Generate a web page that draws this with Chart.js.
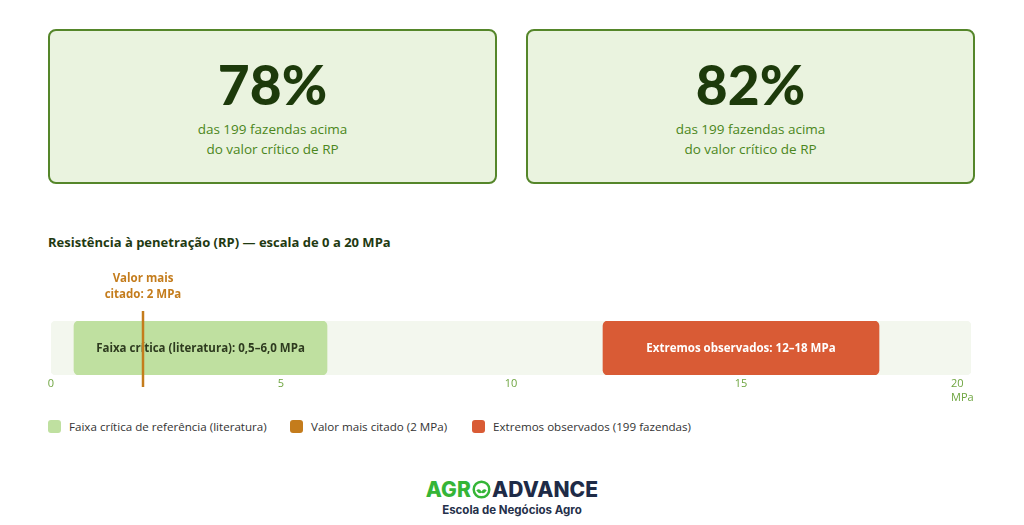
<!DOCTYPE html>
<html>
<head>
<meta charset="utf-8">
<script src="https://cdn.jsdelivr.net/npm/chart.js@4.4.1/dist/chart.umd.min.js"></script>
<style>
  body { margin: 0; width: 1024px; height: 525px; background: #fff; font-family: "Open Sans", "Noto Sans", sans-serif; position: relative; overflow: hidden; }
  .card { position: absolute; top: 29px; width: 449px; height: 155px; background: #eaf3df; border: 2px solid #55862a; border-radius: 8px; box-sizing: border-box; text-align: center; }
  .card .big { font-family: Lato, sans-serif; font-weight: 900; font-size: 55px; color: #1d3a0b; margin-top: 22px; line-height: 62px; }
  .card .sub { font-size: 13.5px; font-weight: 500; color: #4a8620; line-height: 20px; margin-top: 4px; }
  #title { position: absolute; left: 48px; top: 233px; font-size: 13px; font-weight: 700; color: #1f3a12; }
  #wrap { position: absolute; left: 0; top: 260px; width: 1024px; height: 150px; }
  .legend { position: absolute; top: 419px; left: 48px; font-size: 11.6px; color: #333; }
  .legend span.item { position: absolute; white-space: nowrap; top: 0; }
  .legend i { display: inline-block; width: 13px; height: 13px; border-radius: 3px; vertical-align: -2px; margin-right: 8px; }
  #logo { position: absolute; left: 0; width: 1024px; top: 478px; text-align: center; }
  #logo .name { font-family: Inter, sans-serif; font-weight: 800; font-size: 21px; letter-spacing: 0.1px; line-height: 24px; }
  #logo .tag { font-family: Inter, sans-serif; font-weight: 700; font-size: 11.5px; color: #25304a; line-height: 16px; }
</style>
</head>
<body>

<div class="card" style="left:48px">
  <div class="big">78%</div>
  <div class="sub">das 199 fazendas acima<br>do valor crítico de RP</div>
</div>
<div class="card" style="left:526px">
  <div class="big">82%</div>
  <div class="sub">das 199 fazendas acima<br>do valor crítico de RP</div>
</div>

<div id="title">Resistência à penetração (RP) — escala de 0 a 20 MPa</div>

<div id="wrap"><canvas id="rpChart"></canvas></div>

<div class="legend">
  <span class="item" style="left:0"><i style="background:#bfe0a0"></i>Faixa crítica de referência (literatura)</span>
  <span class="item" style="left:242px"><i style="background:#c47c1c"></i>Valor mais citado (2 MPa)</span>
  <span class="item" style="left:424px"><i style="background:#d95b35"></i>Extremos observados (199 fazendas)</span>
</div>

<div id="logo">
  <div class="name"><span style="color:#35b537">AGR</span><svg width="19" height="19" viewBox="0 0 20 20" style="vertical-align:-2px;margin:0 1px"><circle cx="10" cy="10" r="8.2" fill="none" stroke="#35b537" stroke-width="2.6"/><path d="M4.5 11 Q7.5 8 10 12 Q12.5 8 15.5 11 Q12.5 15 10 13.5 Q7.5 15 4.5 11Z" fill="#35b537"/></svg><span style="color:#1e2b47">ADVANCE</span></div>
  <div class="tag">Escola de Negócios Agro</div>
</div>

<script>
var scaleMin = 0;
var scaleMax = 20;
var tickValues = [0, 5, 10, 15, 20];
var tickLabels = ["0", "5", "10", "15", "20"];
var unitLabel = "MPa";

var trackRange = [0, 20];
var criticalRange = [0.5, 6.0];
var extremesRange = [12, 18];
var citedValue = 2;

var criticalLabel = "Faixa crítica (literatura): 0,5–6,0 MPa";
var extremesLabel = "Extremos observados: 12–18 MPa";
var citedLabel = ["Valor mais", "citado: 2 MPa"];

var fontFamily = '"Open Sans", "Noto Sans", sans-serif';

// draws bar labels, the cited-value line and the custom x ticks
var overlayPlugin = {
    id: 'overlay',
    afterDatasetsDraw: function(chart) {
        var ctx = chart.ctx;
        var x = chart.scales.x;
        var area = chart.chartArea;
        var midY = (area.top + area.bottom) / 2;

        ctx.save();
        ctx.font = 'bold 11.5px ' + fontFamily;
        ctx.textAlign = 'center';
        ctx.textBaseline = 'middle';
        ctx.fillStyle = '#2e3b1f';
        ctx.fillText(criticalLabel, (x.getPixelForValue(criticalRange[0]) + x.getPixelForValue(criticalRange[1])) / 2, midY + 1);
        ctx.fillStyle = '#ffffff';
        ctx.fillText(extremesLabel, (x.getPixelForValue(extremesRange[0]) + x.getPixelForValue(extremesRange[1])) / 2, midY + 1);

        // cited value line
        var cx = x.getPixelForValue(citedValue);
        ctx.strokeStyle = '#c47c1c';
        ctx.lineWidth = 2.5;
        ctx.beginPath();
        ctx.moveTo(cx, area.top - 10);
        ctx.lineTo(cx, area.bottom + 12);
        ctx.stroke();

        ctx.fillStyle = '#c47c1c';
        ctx.font = 'bold 11.5px ' + fontFamily;
        ctx.fillText(citedLabel[0], cx, area.top - 42);
        ctx.fillText(citedLabel[1], cx, area.top - 26);

        // ticks
        ctx.fillStyle = '#6da43e';
        ctx.font = '11px ' + fontFamily;
        for (var i = 0; i < tickValues.length; i++) {
            var px = x.getPixelForValue(tickValues[i]);
            if (i == tickValues.length - 1) {
                ctx.textAlign = 'left';
                ctx.fillText(tickLabels[i], px - 20, area.bottom + 9);
                ctx.fillText(unitLabel, px - 20, area.bottom + 23);
            } else {
                ctx.textAlign = 'center';
                ctx.fillText(tickLabels[i], px, area.bottom + 9);
            }
        }
        ctx.restore();
    }
};

var chartdata = {
    labels: ["RP"],
    datasets: [
        {
            label: "Escala",
            data: [trackRange],
            backgroundColor: "#f3f7ee",
            borderRadius: 5,
            borderSkipped: false,
            grouped: false,
            order: 3
        },
        {
            label: "Faixa crítica de referência (literatura)",
            data: [criticalRange],
            backgroundColor: "#bfe0a0",
            borderRadius: 5,
            borderSkipped: false,
            grouped: false,
            order: 2
        },
        {
            label: "Extremos observados (199 fazendas)",
            data: [extremesRange],
            backgroundColor: "#d95b35",
            borderRadius: 5,
            borderSkipped: false,
            grouped: false,
            order: 1
        }
    ]
};

var ctx = document.getElementById("rpChart");

var rpChart = new Chart(ctx, {
    type: 'bar',
    data: chartdata,
    options: {
        indexAxis: 'y',
        responsive: true,
        maintainAspectRatio: false,
        animation: false,
        barPercentage: 1,
        categoryPercentage: 1,
        layout: { padding: { left: 51, right: 53, top: 61, bottom: 35 } },
        scales: {
            x: { display: false, min: scaleMin, max: scaleMax },
            y: { display: false }
        },
        plugins: {
            legend: { display: false },
            tooltip: { enabled: false }
        }
    },
    plugins: [overlayPlugin]
});
</script>
</body>
</html>
